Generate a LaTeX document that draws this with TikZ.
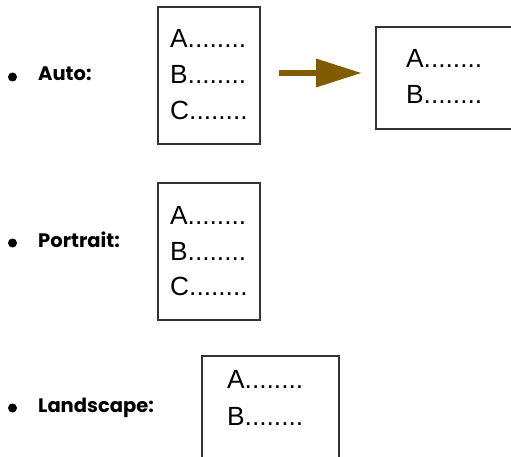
\documentclass[tikz,border=0pt]{standalone}
\usepackage{fontspec}
\setmainfont{Liberation Sans}
\newfontfamily\labelfont{Poppins}
\usetikzlibrary{arrows.meta}
\definecolor{arrowbrown}{HTML}{825A00}
\definecolor{boxline}{HTML}{333333}
\tikzset{
  page/.style={draw=boxline, line width=1.4pt},
  entry/.style={anchor=base west, inner sep=0pt, font=\fontsize{26.3}{30}\selectfont},
  itemlabel/.style={anchor=base west, inner sep=0pt, font=\labelfont\bfseries\fontsize{19.5}{22}\selectfont},
  bulletdot/.style={circle, fill=black, inner sep=0pt, minimum size=9pt}
}
\begin{document}
\begin{tikzpicture}[x=1pt,y=-1pt]
\useasboundingbox (0,0) rectangle (511,457);
\begin{scope}
\clip (0,0) rectangle (511,457);
% Auto
\node[bulletdot] (b1) at (12.5,77) {};
\node[itemlabel] (l1) at (38,81) {Auto:};
\draw[page] (158,7) rectangle (260,144);
\coordinate (p1e) at (260,73);
\node[entry] (p1a) at (170,48) {A........};
\node[entry] (p1b) at (170,84) {B........};
\node[entry] (p1c) at (170,119.5) {C........};
\draw[page] (376,27) rectangle (513,129);
\coordinate (q1w) at (376,73);
\node[entry] (q1a) at (406,68) {A........};
\node[entry] (q1b) at (406,104) {B........};
\draw[arrowbrown, line width=6.5pt, shorten <=19pt, shorten >=14pt,
  -{Triangle[length=46pt,width=27pt]}] (p1e) -- (q1w);
% Portrait
\node[bulletdot] (b2) at (12.5,243) {};
\node[itemlabel] (l2) at (38,247) {Portrait:};
\draw[page] (158,183) rectangle (260,320);
\node[entry] (p2a) at (170,224) {A........};
\node[entry] (p2b) at (170,260) {B........};
\node[entry] (p2c) at (170,295.5) {C........};
% Landscape
\node[bulletdot] (b3) at (12.5,408) {};
\node[itemlabel] (l3) at (38,412) {Landscape:};
\draw[page] (202,356) rectangle (339,460);
\node[entry] (q3a) at (227,388) {A........};
\node[entry] (q3b) at (227,425) {B........};
\end{scope}
\end{tikzpicture}
\end{document}
